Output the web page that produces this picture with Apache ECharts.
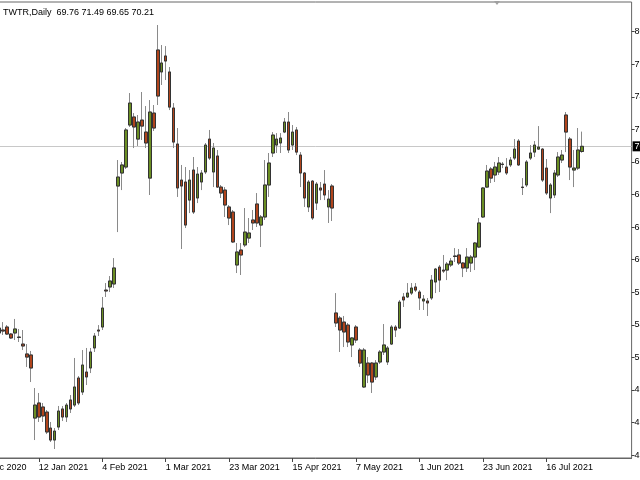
<!DOCTYPE html>
<html><head><meta charset="utf-8">
<script src="https://cdn.jsdelivr.net/npm/echarts@6/dist/echarts.min.js"></script>
<style>html,body{margin:0;padding:0;background:#fff}#c{width:640px;height:480px}</style>
</head><body><div id="c"></div>
<script>
const symbolName = 'TWTR';
const period = 'Daily';
const currentPrice = 70.21;
// empty trading days before / after the data
const padBefore = ['17 Dec 2020','18 Dec 2020','21 Dec 2020','22 Dec 2020','23 Dec 2020','24 Dec 2020'];
const padAfter = ['30 Jul 2021','2 Aug 2021','3 Aug 2021','4 Aug 2021','5 Aug 2021','6 Aug 2021','9 Aug 2021','10 Aug 2021','11 Aug 2021','12 Aug 2021','13 Aug 2021','16 Aug 2021'];
const xTickLabels = ['17 Dec 2020','12 Jan 2021','4 Feb 2021','1 Mar 2021','23 Mar 2021','15 Apr 2021','7 May 2021','1 Jun 2021','23 Jun 2021','16 Jul 2021'];
const yTickValues = [80.17,77.34,74.51,71.68,68.85,66.02,63.19,60.36,57.53,54.70,51.87,49.04,46.21,43.38];
// date, open, high, low, close
const candles = [
['28 Dec 2020',54.42,55.12,53.73,53.99],
['29 Dec 2020',54.25,54.94,53.82,54.16],
['30 Dec 2020',54.51,54.68,53.82,53.90],
['31 Dec 2020',53.90,53.99,53.47,53.56],
['4 Jan 2021',53.99,55.21,53.38,54.34],
['5 Jan 2021',53.64,54.34,53.21,53.60],
['6 Jan 2021',53.03,54.25,52.51,52.86],
['7 Jan 2021',52.17,53.03,51.04,51.90],
['8 Jan 2021',52.08,52.43,49.73,50.95],
['11 Jan 2021',46.60,49.21,44.69,47.73],
['12 Jan 2021',47.91,48.78,46.26,46.69],
['13 Jan 2021',47.56,47.91,46.26,46.78],
['14 Jan 2021',47.12,47.30,45.21,45.39],
['15 Jan 2021',45.73,46.26,44.52,44.69],
['19 Jan 2021',44.69,45.73,43.91,45.47],
['20 Jan 2021',45.82,47.65,45.56,47.21],
['21 Jan 2021',47.39,47.65,46.34,46.69],
['22 Jan 2021',46.69,47.91,46.26,47.73],
['25 Jan 2021',48.17,48.60,47.04,47.39],
['26 Jan 2021',47.73,51.82,47.56,49.30],
['27 Jan 2021',50.08,50.25,47.73,47.91],
['28 Jan 2021',48.86,52.51,48.60,51.21],
['29 Jan 2021',50.60,52.69,49.47,50.17],
['1 Feb 2021',50.95,52.69,50.51,52.34],
['2 Feb 2021',52.69,53.99,52.34,53.73],
['3 Feb 2021',54.25,54.68,53.73,54.16],
['4 Feb 2021',54.51,57.12,54.25,56.16],
['5 Feb 2021',57.72,58.33,57.12,57.64],
['8 Feb 2021',57.99,58.94,57.55,58.51],
['9 Feb 2021',58.25,60.50,57.90,59.64],
['10 Feb 2021',66.76,69.02,62.76,67.54],
['11 Feb 2021',67.89,68.85,66.41,68.59],
['12 Feb 2021',68.41,71.80,68.24,71.63],
['16 Feb 2021',72.06,74.84,71.89,73.97],
['17 Feb 2021',72.76,73.10,70.06,71.89],
['18 Feb 2021',70.84,72.93,70.24,72.32],
['19 Feb 2021',72.49,74.93,70.76,71.97],
['22 Feb 2021',71.45,73.71,70.06,70.50],
['23 Feb 2021',67.45,74.23,65.98,73.19],
['24 Feb 2021',73.10,73.80,71.54,71.80],
['25 Feb 2021',78.58,80.75,73.80,74.58],
['26 Feb 2021',76.67,79.01,75.54,77.45],
['1 Mar 2021',78.06,78.92,75.97,77.62],
['2 Mar 2021',76.67,77.10,73.36,73.62],
['3 Mar 2021',73.54,73.97,70.06,70.58],
['4 Mar 2021',70.41,71.80,65.81,66.59],
['5 Mar 2021',67.28,68.59,61.29,66.76],
['8 Mar 2021',67.11,68.41,63.11,63.37],
['9 Mar 2021',65.54,68.15,64.41,67.28],
['10 Mar 2021',68.15,69.28,64.33,64.50],
['11 Mar 2021',65.72,68.41,65.28,67.80],
['12 Mar 2021',67.11,68.15,66.41,67.89],
['15 Mar 2021',67.98,70.50,67.80,70.32],
['16 Mar 2021',70.84,71.63,69.02,69.19],
['17 Mar 2021',67.98,70.50,66.67,70.06],
['18 Mar 2021',69.37,69.89,66.59,66.67],
['19 Mar 2021',66.67,66.85,65.72,66.15],
['22 Mar 2021',66.41,66.67,64.07,65.11],
['23 Mar 2021',64.94,65.11,63.37,63.98],
['24 Mar 2021',64.50,64.68,61.81,61.90],
['25 Mar 2021',59.90,61.81,59.20,61.03],
['26 Mar 2021',61.20,61.81,59.03,60.77],
['29 Mar 2021',61.64,64.85,61.46,62.76],
['30 Mar 2021',62.24,63.98,61.81,62.68],
['31 Mar 2021',63.81,64.68,62.94,63.55],
['1 Apr 2021',65.20,66.15,63.20,63.55],
['5 Apr 2021',63.37,64.24,61.46,64.07],
['6 Apr 2021',64.07,69.02,63.81,66.85],
['7 Apr 2021',66.85,69.63,65.81,68.76],
['8 Apr 2021',69.63,71.45,69.28,71.19],
['9 Apr 2021',70.32,71.36,69.63,70.84],
['12 Apr 2021',70.50,71.36,69.63,70.93],
['13 Apr 2021',71.45,72.67,71.36,72.32],
['14 Apr 2021',72.32,73.19,69.63,69.89],
['15 Apr 2021',70.32,72.06,69.89,71.45],
['16 Apr 2021',71.63,71.89,69.45,69.71],
['19 Apr 2021',69.45,69.71,66.67,67.89],
['20 Apr 2021',67.89,67.98,64.94,65.72],
['21 Apr 2021',64.94,67.28,64.50,67.11],
['22 Apr 2021',67.19,67.28,63.81,63.98],
['23 Apr 2021',65.28,67.11,64.68,66.93],
['26 Apr 2021',66.59,67.11,65.54,66.41],
['27 Apr 2021',66.93,68.15,65.54,65.98],
['28 Apr 2021',64.94,66.41,63.55,65.63],
['29 Apr 2021',66.76,66.93,63.72,64.85],
['30 Apr 2021',55.73,57.46,54.51,54.86],
['3 May 2021',55.29,55.47,52.34,54.25],
['4 May 2021',54.94,55.47,52.77,54.08],
['5 May 2021',54.68,54.86,52.77,53.21],
['6 May 2021',52.95,53.64,51.90,53.56],
['7 May 2021',54.51,54.68,53.12,53.38],
['10 May 2021',52.51,52.69,51.04,51.38],
['11 May 2021',49.30,52.69,49.21,52.51],
['12 May 2021',51.38,51.90,49.64,50.34],
['13 May 2021',51.38,51.47,48.78,49.73],
['14 May 2021',50.17,51.64,49.91,51.38],
['17 May 2021',51.47,52.51,51.30,52.34],
['18 May 2021',52.34,54.77,52.08,52.95],
['19 May 2021',51.47,52.86,51.21,52.69],
['20 May 2021',53.03,54.68,52.95,54.51],
['21 May 2021',54.51,54.68,53.64,54.25],
['24 May 2021',54.42,56.86,54.34,56.68],
['25 May 2021',57.12,57.46,56.25,56.86],
['26 May 2021',57.12,58.33,57.03,57.46],
['27 May 2021',57.46,58.33,57.29,57.90],
['28 May 2021',57.99,58.33,57.55,57.72],
['1 Jun 2021',57.55,57.72,55.99,57.03],
['2 Jun 2021',56.77,57.29,55.99,56.94],
['3 Jun 2021',56.77,57.03,55.47,56.60],
['4 Jun 2021',57.03,59.03,56.86,58.59],
['7 Jun 2021',58.42,59.64,57.46,59.55],
['8 Jun 2021',59.72,59.90,57.55,58.59],
['9 Jun 2021',59.46,60.77,59.20,59.37],
['10 Jun 2021',59.46,60.16,58.59,59.98],
['11 Jun 2021',59.90,60.50,59.72,60.24],
['14 Jun 2021',60.68,61.37,60.16,60.64],
['15 Jun 2021',60.77,61.29,59.90,60.07],
['16 Jun 2021',60.07,60.16,58.85,59.64],
['17 Jun 2021',59.64,61.37,59.29,60.59],
['18 Jun 2021',60.07,60.77,59.29,60.59],
['21 Jun 2021',60.59,61.90,59.46,61.81],
['22 Jun 2021',61.46,63.98,61.37,63.55],
['23 Jun 2021',64.07,66.67,63.98,66.59],
['24 Jun 2021',66.67,68.59,66.59,68.06],
['25 Jun 2021',68.24,68.41,67.02,67.45],
['28 Jun 2021',67.72,68.85,67.11,68.41],
['29 Jun 2021',67.98,69.28,67.72,68.76],
['30 Jun 2021',68.67,68.85,68.32,68.63],
['1 Jul 2021',68.41,69.19,67.72,67.89],
['2 Jul 2021',68.59,69.28,68.41,69.02],
['6 Jul 2021',69.19,70.84,69.02,69.97],
['7 Jul 2021',70.67,70.84,68.50,68.59],
['8 Jul 2021',66.67,67.45,65.98,66.63],
['9 Jul 2021',66.85,69.02,66.67,68.85],
['12 Jul 2021',69.19,70.32,69.02,69.63],
['13 Jul 2021',69.71,70.67,69.28,70.32],
['14 Jul 2021',69.97,71.97,69.89,70.15],
['15 Jul 2021',69.97,70.06,67.11,67.28],
['16 Jul 2021',68.32,69.11,65.98,66.15],
['19 Jul 2021',65.72,67.02,64.41,66.85],
['20 Jul 2021',65.98,68.15,65.72,67.89],
['21 Jul 2021',67.72,69.71,67.54,69.28],
['22 Jul 2021',69.02,69.89,68.76,69.45],
['23 Jul 2021',72.93,73.19,69.71,71.45],
['26 Jul 2021',70.84,71.02,67.28,68.41],
['27 Jul 2021',68.15,69.89,66.67,68.32],
['28 Jul 2021',68.32,71.80,68.15,69.89],
['29 Jul 2021',69.76,71.49,69.65,70.21]
];

const bullColor = '#6b8e23';
const bearColor = '#b0441c';
const dates = padBefore.concat(candles.map(r => r[0]), padAfter);
const blank = n => Array.from({length: n}, () => '-');
const wickData = blank(padBefore.length).concat(candles.map(r => [r[1], r[4], r[3], r[2]]), blank(padAfter.length));
const bodyData = blank(padBefore.length).concat(candles.map(r => [r[1], r[4], Math.min(r[1], r[4]), Math.max(r[1], r[4])]), blank(padAfter.length));
const last = candles[candles.length - 1];
const header = symbolName + ',' + period + '  ' + [last[1], last[2], last[3], last[4]].map(v => v.toFixed(2)).join(' ');
const labelSet = new Set(xTickLabels);

const chart = echarts.init(document.getElementById('c'), null, {renderer: 'canvas'});
chart.setOption({
  animation: false,
  backgroundColor: '#ffffff',
  title: {text: header, left: -2, top: 3, textStyle: {fontFamily: 'Liberation Sans', fontSize: 9, fontWeight: 'normal', color: '#000'}},
  grid: {left: -26.6, right: 8.4, top: 2, bottom: 22, containLabel: false, outerBoundsMode: 'none', show: true, borderColor: '#666', borderWidth: 1, backgroundColor: 'transparent'},
  xAxis: {
    type: 'category', data: dates, boundaryGap: true,
    axisLine: {show: true, lineStyle: {color: '#666'}},
    axisTick: {show: true, alignWithLabel: true, length: 4, interval: (i, v) => labelSet.has(v), lineStyle: {color: '#444'}},
    axisLabel: {show: true, interval: (i, v) => labelSet.has(v), align: 'left', margin: 5, fontFamily: 'Liberation Sans', fontSize: 9, color: '#000'},
    splitLine: {show: false}
  },
  yAxis: {
    type: 'value', position: 'right', scale: true, min: 43.13, max: 82.75,
    axisLine: {show: false},
    axisTick: {show: true, length: 3, customValues: yTickValues, lineStyle: {color: '#444'}},
    axisLabel: {show: true, customValues: yTickValues, formatter: v => v.toFixed(2), margin: 3, fontFamily: 'Liberation Sans', fontSize: 9, color: '#000'},
    splitLine: {show: false}
  },
  graphic: [{type: 'polygon', shape: {points: [[494, 1], [500, 1], [497, 5]]}, style: {fill: '#a0a0a0'}, silent: true}],
  series: [
    {
      type: 'candlestick', name: 'wick', data: wickData, barWidth: 3,
      itemStyle: {color: bullColor, color0: bearColor, borderColor: '#8a8a8a', borderColor0: '#8a8a8a', borderColorDoji: '#8a8a8a', borderWidth: 1},
      markLine: {
        silent: true, symbol: 'none', z: 1,
        data: [{yAxis: currentPrice}],
        lineStyle: {color: '#c8c8c8', type: 'solid', width: 1},
        label: {position: 'end', formatter: () => currentPrice.toFixed(2), backgroundColor: '#000', color: '#fff', fontFamily: 'Liberation Sans', fontSize: 9, padding: [1, 2, 0, 2], distance: 1}
      }
    },
    {
      type: 'candlestick', name: 'body', data: bodyData, barWidth: 3,
      itemStyle: {color: bullColor, color0: bearColor, borderColor: '#333', borderColor0: '#333', borderColorDoji: '#333', borderWidth: 1}
    }
  ]
});
</script></body></html>
